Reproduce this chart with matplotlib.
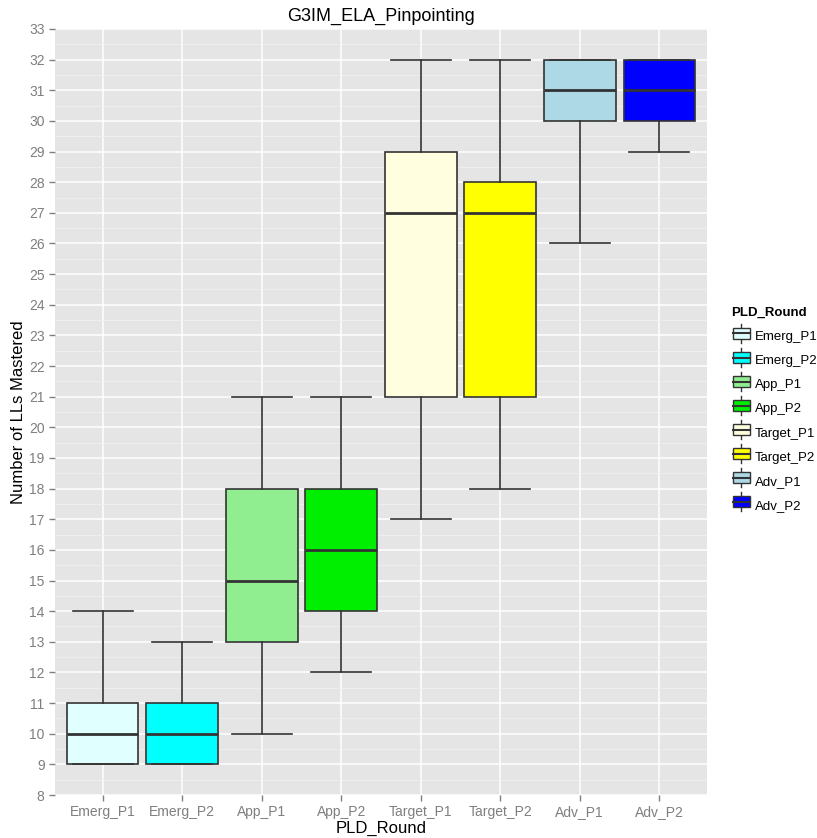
import matplotlib.pyplot as plt
from matplotlib.patches import Rectangle
from matplotlib.lines import Line2D
from matplotlib.legend_handler import HandlerBase

# --- DATA ---
rounds = ["Emerg_P1", "Emerg_P2", "App_P1", "App_P2",
          "Target_P1", "Target_P2", "Adv_P1", "Adv_P2"]
whisker_low = [9, 9, 10, 12, 17, 18, 26, 29]
q1 = [9, 9, 13, 14, 21, 21, 30, 30]
median = [10, 10, 15, 16, 27, 27, 31, 31]
q3 = [11, 11, 18, 18, 29, 28, 32, 32]
whisker_high = [14, 13, 21, 21, 32, 32, 32, 32]
colors = ["#E0FFFF", "#00FFFF", "#90EE90", "#00EE00",
          "#FFFFE0", "#FFFF00", "#ADD8E6", "#0000FF"]

plt.rcParams['font.family'] = ['Liberation Sans', 'DejaVu Sans']
edge = "#333333"

fig = plt.figure(figsize=(8.17, 8.38), dpi=100)
ax = fig.add_axes([55 / 817, 43 / 838, 652 / 817, 766 / 838])

stats = []
for i, name in enumerate(rounds):
    stats.append(dict(label=name, whislo=whisker_low[i], q1=q1[i], med=median[i],
                      q3=q3[i], whishi=whisker_high[i], fliers=[]))

bp = ax.bxp(stats, positions=range(1, len(rounds) + 1), widths=0.9,
            patch_artist=True, capwidths=0.75, zorder=3,
            boxprops=dict(edgecolor=edge, linewidth=1.2),
            medianprops=dict(color=edge, linewidth=2.0),
            whiskerprops=dict(color=edge, linewidth=1.2),
            capprops=dict(color=edge, linewidth=1.2))
for patch, c in zip(bp['boxes'], colors):
    patch.set_facecolor(c)

# --- ggplot-like styling ---
ax.set_facecolor("#E5E5E5")
for s in ax.spines.values():
    s.set_visible(False)
ax.set_xlim(0.4, 8.6)
ax.set_ylim(8, 33)
ax.set_yticks(range(8, 34))
ax.set_yticks([v + 0.5 for v in range(8, 33)], minor=True)
ax.set_xticks(range(1, len(rounds) + 1))
ax.set_xticklabels(rounds)
ax.grid(True, which='major', color='white', linewidth=1.1, zorder=0)
ax.grid(True, which='minor', axis='y', color='#F2F2F2', linewidth=0.5, zorder=0)
ax.set_axisbelow(True)
ax.tick_params(axis='both', which='major', colors='#7F7F7F', labelsize=10,
               length=4, width=1, labelcolor='#7F7F7F')
ax.tick_params(axis='y', which='minor', length=0)

ax.set_title("G3IM_ELA_Pinpointing", fontsize=13, pad=6)
ax.set_xlabel("PLD_Round", fontsize=12, labelpad=1)
ax.set_ylabel("Number of LLs Mastered", fontsize=12, labelpad=2)


# --- legend with boxplot-like keys ---
class BoxKey(HandlerBase):
    def create_artists(self, legend, orig_handle, x0, y0, width, height, fontsize, trans):
        fc = orig_handle.get_facecolor()
        box = Rectangle((x0 + 1, y0), width - 2, height,
                        facecolor=fc, edgecolor=edge, linewidth=1.0, transform=trans)
        med = Line2D([x0 + 1, x0 + width - 1], [y0 + height * 0.5] * 2,
                     color=edge, linewidth=1.5, transform=trans)
        wh = Line2D([x0 + width / 2] * 2, [y0 - height * 0.35, y0 + height * 1.35],
                    color=edge, linewidth=1.0, transform=trans)
        return [wh, box, med]


handles = [Rectangle((0, 0), 1, 1, facecolor=c) for c in colors]
leg = fig.legend(handles, rounds, handler_map={Rectangle: BoxKey()},
                 loc='upper left', bbox_to_anchor=(726 / 817, 1 - 302 / 838),
                 frameon=False, fontsize=9.5, title="PLD_Round",
                 title_fontproperties=dict(weight='bold', size=9.5),
                 handlelength=1.5, handleheight=0.95, labelspacing=0.82,
                 handletextpad=0.3, borderaxespad=0, alignment='left')

plt.savefig("out.png", dpi=100)
